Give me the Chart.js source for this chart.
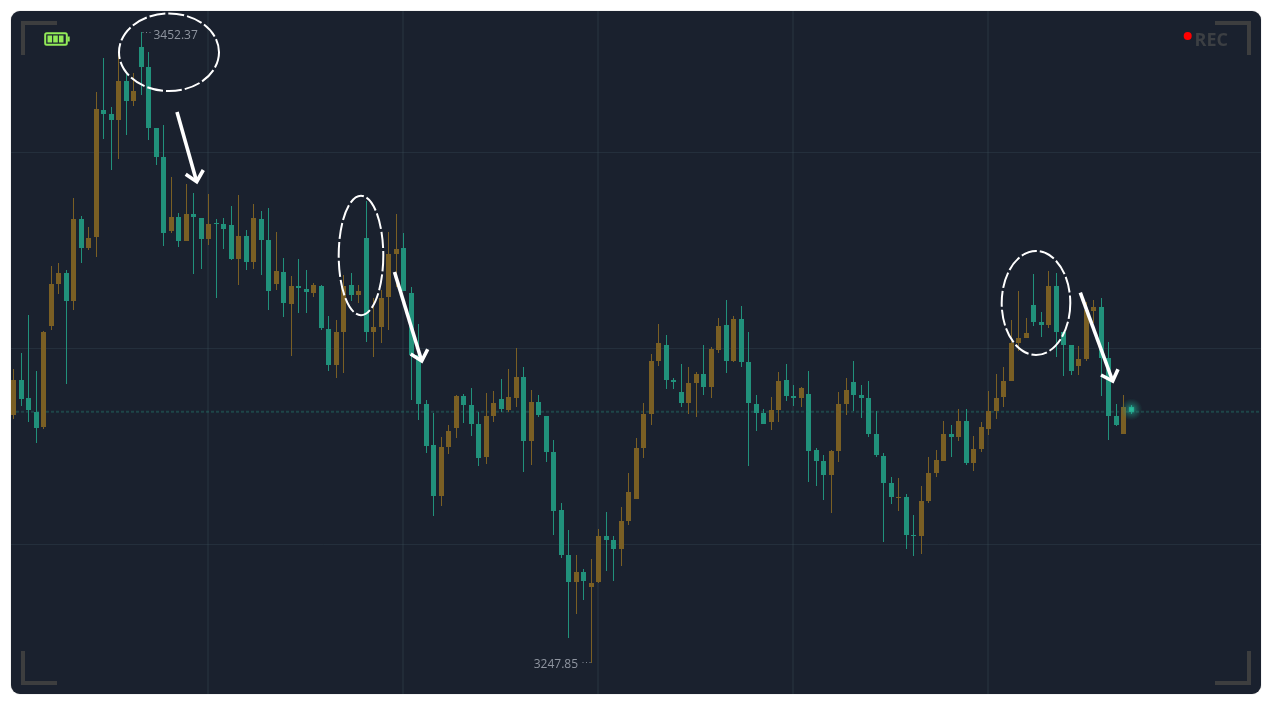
<!DOCTYPE html>
<html>
<head>
<meta charset="utf-8">
<title>Candlestick chart</title>
<script src="https://cdn.jsdelivr.net/npm/chart.js@4"></script>
<style>
html,body{margin:0;padding:0;background:#fff;width:1272px;height:705px;overflow:hidden}
#card{position:absolute;left:11px;top:11px;width:1250px;height:683px;border-radius:9px;overflow:hidden;background:#1a212e;box-shadow:0 0 1px rgba(0,0,0,.45)}
canvas{position:absolute;left:0;top:0}
svg{position:absolute;left:0;top:0;pointer-events:none}
</style>
</head>
<body>
<div id="card"><canvas id="c" width="1250" height="683"></canvas></div>
<svg width="1272" height="705" viewBox="0 0 1272 705" fill="none">
  <g stroke="#3d3e3f" stroke-width="4">
    <path d="M57 23H23V55"/><path d="M1215 23H1249V55"/>
    <path d="M23 651V683H57"/><path d="M1249 651V683H1215"/>
  </g>
  <g>
    <rect x="45.2" y="33.2" width="21.6" height="11.6" rx="1.5" stroke="#92ea58" stroke-width="2"/>
    <rect x="67.5" y="36.5" width="2.2" height="5" fill="#92ea58"/>
    <rect x="47.5" y="35.5" width="4.6" height="7" fill="#92ea58"/>
    <rect x="53.2" y="35.5" width="4.6" height="7" fill="#92ea58"/>
    <rect x="58.9" y="35.5" width="4.6" height="7" fill="#92ea58"/>
  </g>
  <circle cx="1187.7" cy="36" r="4" fill="#ff0000"/>
  <text x="1194.5" y="45.6" font-family="Open Sans" font-weight="700" font-size="18" fill="#3c3f43">REC</text>
  <g stroke="#ffffff" stroke-width="2" stroke-dasharray="16 3">
    <ellipse cx="169" cy="52.3" rx="50" ry="38.8"/>
    <ellipse cx="361" cy="255.5" rx="22.3" ry="59.7"/>
    <ellipse cx="1036" cy="303" rx="34.3" ry="52"/>
  </g>
  <g stroke="#ffffff" stroke-width="3.6">
    <path d="M177 112L196.7 181.7"/><path d="M185.7 174.3L196.7 181.7L203.3 170"/>
    <path d="M394.5 272L421.7 361"/><path d="M410.7 354L421.7 361L427.7 349.3"/>
    <path d="M1080.3 292.7L1112.7 381"/><path d="M1101 375L1112.7 381L1118 369.3"/>
  </g>
</svg>
<script>
const highs = [3343.2,3348.4,3360.7,3342.5,3355.5,3376.6,3377.6,3375.3,3398.6,3392.8,
3389.2,3433.0,3444.0,3428.1,3445.7,3439.2,3439.2,3452.37,3446.0,3421.3,
3422.3,3405.4,3393.8,3403.2,3400.3,3392.2,3399.9,3391.8,3392.2,3396.0,
3399.6,3388.3,3396.7,3394.4,3395.4,3387.6,3379.2,3373.3,3378.9,3375.3,
3371.1,3370.4,3360.4,3359.1,3373.7,3374.3,3370.4,3397.7,3366.2,3368.8,
3387.6,3393.4,3387.3,3369.8,3357.8,3333.1,3328.9,3321.1,3325.0,3334.8,
3335.1,3337.0,3329.2,3335.4,3336.0,3339.9,3343.2,3350.0,3343.8,3336.4,
3334.8,3328.0,3320.2,3299.7,3291.0,3282.9,3278.3,3281.6,3291.3,3296.8,
3289.0,3298.4,3309.5,3320.8,3332.2,3348.0,3357.8,3354.2,3340.3,3344.8,
3343.8,3342.2,3351.0,3350.3,3359.7,3365.6,3360.4,3363.6,3355.2,3334.8,
3330.2,3334.1,3342.2,3344.8,3338.0,3337.3,3342.5,3317.6,3315.3,3316.9,
3335.7,3340.3,3345.8,3338.0,3339.3,3329.6,3315.9,3308.2,3307.8,3302.6,
3295.8,3305.2,3314.6,3316.9,3326.3,3325.0,3330.2,3330.2,3321.4,3326.0,
3336.0,3341.6,3343.8,3359.1,3368.5,3359.7,3374.0,3361.7,3375.0,3374.3,
3355.2,3351.0,3350.6,3364.9,3365.6,3366.2,3351.9,3331.8,3334.8,3331.5];
const lows = [3327.0,3331.2,3326.0,3319.2,3323.7,3355.8,3367.5,3338.3,3362.3,3377.6,
3381.8,3379.5,3417.8,3407.7,3411.3,3419.1,3428.5,3432.0,3417.5,3409.3,
3383.1,3387.3,3382.7,3384.7,3374.0,3375.6,3383.4,3366.2,3382.1,3378.5,
3370.4,3375.3,3375.6,3373.7,3362.3,3368.8,3360.0,3347.4,3361.3,3361.3,
3366.5,3355.8,3342.5,3340.3,3341.9,3365.2,3364.6,3351.9,3347.1,3351.6,
3355.8,3369.8,3368.5,3333.1,3326.6,3315.9,3295.5,3298.7,3315.6,3320.8,
3325.7,3321.4,3311.7,3312.4,3326.0,3329.2,3329.2,3330.9,3309.8,3312.0,
3327.6,3313.0,3289.3,3281.9,3256.0,3263.7,3268.3,3247.85,3273.8,3277.7,
3274.4,3279.3,3292.6,3301.0,3314.3,3325.0,3344.2,3336.7,3336.7,3330.9,
3328.6,3327.6,3334.8,3333.8,3348.4,3341.9,3345.4,3343.8,3311.7,3323.1,
3325.3,3323.4,3326.0,3332.8,3331.2,3330.9,3306.5,3305.2,3300.7,3296.5,
3313.0,3328.3,3329.6,3327.3,3321.1,3314.6,3287.1,3299.4,3297.1,3284.8,
3282.5,3283.2,3299.7,3308.2,3313.3,3314.6,3319.8,3312.0,3310.1,3316.3,
3321.8,3327.0,3330.9,3339.3,3349.0,3353.2,3357.1,3353.6,3356.5,3347.1,
3340.9,3341.2,3341.2,3345.8,3358.1,3334.4,3320.2,3324.7,3322.1,3328.6];
const opens = [3328.3,3339.6,3333.8,3329.2,3324.4,3357.1,3370.8,3374.3,3365.2,3391.8,
3382.4,3386.0,3427.2,3425.9,3423.9,3436.6,3430.1,3447.6,3441.1,3421.3,
3411.9,3387.9,3392.5,3384.7,3393.4,3392.2,3385.3,3390.5,3390.2,3389.9,
3378.9,3386.3,3377.9,3391.8,3385.0,3370.8,3374.6,3364.3,3370.1,3369.1,
3367.8,3370.1,3356.2,3344.5,3355.2,3370.4,3367.2,3385.7,3355.2,3356.8,
3366.5,3380.5,3382.4,3367.8,3347.7,3331.8,3318.5,3302.0,3317.9,3324.0,
3334.4,3331.5,3325.3,3314.6,3328.0,3333.5,3329.9,3333.8,3340.6,3319.8,
3332.5,3328.0,3316.3,3297.5,3282.9,3274.1,3277.4,3272.5,3274.1,3289.0,
3287.7,3284.8,3293.9,3301.0,3317.6,3328.6,3345.8,3351.0,3339.6,3335.7,
3332.2,3338.6,3341.6,3337.3,3349.3,3357.4,3345.8,3359.4,3345.4,3331.8,
3328.9,3326.0,3329.9,3339.6,3334.4,3333.8,3335.1,3316.9,3313.3,3308.8,
3316.6,3331.8,3339.0,3334.8,3333.8,3322.1,3315.0,3306.2,3301.3,3301.7,
3289.3,3289.0,3300.4,3309.5,3313.3,3322.1,3321.1,3326.3,3312.7,3317.2,
3323.7,3329.6,3334.1,3339.3,3351.6,3353.2,3363.9,3358.4,3357.4,3370.1,
3355.2,3351.0,3344.2,3346.4,3362.0,3363.3,3346.7,3328.0,3322.1,3330.9];
const closes = [3339.6,3333.5,3329.9,3324.0,3355.2,3370.8,3374.3,3365.2,3391.8,3382.4,
3385.7,3427.5,3425.9,3423.9,3436.6,3430.1,3433.3,3441.1,3421.3,3411.9,
3387.3,3392.5,3384.7,3393.4,3392.5,3385.3,3390.2,3390.2,3388.6,3378.9,
3386.3,3377.9,3392.2,3385.0,3368.5,3375.0,3364.6,3370.1,3369.5,3368.2,
3370.4,3356.5,3344.5,3355.2,3370.1,3367.2,3368.5,3355.2,3356.8,3366.2,
3380.5,3382.1,3368.5,3347.7,3331.8,3318.2,3302.0,3317.9,3323.1,3334.4,
3331.5,3325.3,3314.3,3328.0,3332.2,3330.2,3334.1,3340.6,3319.8,3332.5,
3328.3,3316.3,3297.1,3282.9,3274.1,3277.4,3274.4,3273.8,3289.0,3287.7,
3284.8,3293.9,3303.3,3317.6,3328.6,3345.8,3351.6,3339.6,3339.0,3332.2,
3338.6,3341.6,3337.3,3349.7,3357.1,3345.8,3359.4,3345.4,3332.2,3328.9,
3325.3,3329.9,3339.3,3334.4,3333.8,3337.0,3316.6,3313.3,3308.8,3316.6,
3331.8,3336.4,3334.8,3333.8,3322.1,3315.3,3306.2,3301.7,3301.7,3289.3,
3289.0,3300.4,3309.5,3313.7,3322.1,3321.1,3326.3,3312.7,3317.2,3324.4,
3329.6,3333.8,3339.3,3351.6,3353.2,3354.8,3358.4,3357.4,3370.1,3355.2,
3351.0,3342.5,3346.4,3362.3,3363.3,3346.7,3328.0,3325.0,3330.9,3329.3];
const gridPrices = [3413.3, 3349.99, 3286.2];
const gridIndexes = [25.9, 51.9, 77.9, 103.9, 129.9];
const priceMin = 3237.79, priceMax = 3459.28;
const highLabel = "3452.37", lowLabel = "3247.85";

const GREEN = "#21917b", BROWN = "#7a5f24";
const GRID_X = "rgba(58,80,92,.22)", GRID_Y = "rgba(58,78,92,.3)";
const colors = opens.map((o, i) => closes[i] > o ? BROWN : GREEN);
const idx = opens.map((_, i) => i);
const lastPrice = closes[closes.length - 1];

const snap = {
  id: "snap",
  afterDatasetsUpdate(chart) {
    chart.data.datasets.forEach((ds, d) => {
      if (ds.type === "line") return;
      chart.getDatasetMeta(d).data.forEach(el => {
        el.x = Math.floor(el.x) + 0.5;
        let a = Math.round(el.y), b = Math.round(el.base);
        if (a === b) b = a + 1;
        el.y = a; el.base = b; el.height = b - a;
      });
    });
  }
};
const extras = {
  id: "extras",
  afterDatasetsDraw(chart) {
    const { ctx, scales: { x, y } } = chart;
    const last = idx.length - 1;
    const cx = Math.floor(x.getPixelForValue(last)) + 0.5;
    const cy = y.getPixelForValue((opens[last] + closes[last]) / 2);
    ctx.save();
    const g = ctx.createRadialGradient(cx, cy, 1, cx, cy, 11);
    g.addColorStop(0, "rgba(45,215,175,.6)");
    g.addColorStop(.4, "rgba(35,170,145,.34)");
    g.addColorStop(1, "rgba(33,145,123,0)");
    ctx.fillStyle = g;
    ctx.beginPath(); ctx.arc(cx, cy, 11, 0, Math.PI * 2); ctx.fill();

    const iHi = highs.indexOf(Math.max(...highs)), iLo = lows.indexOf(Math.min(...lows));
    const hx = Math.floor(x.getPixelForValue(iHi)) + 0.5, hy = y.getPixelForValue(highs[iHi]);
    const lx = Math.floor(x.getPixelForValue(iLo)) + 0.5, ly = y.getPixelForValue(lows[iLo]);
    ctx.strokeStyle = "#7f8690"; ctx.lineWidth = 1; ctx.setLineDash([1, 2.5]);
    ctx.beginPath();
    ctx.moveTo(hx + 1, Math.round(hy) + .5); ctx.lineTo(hx + 11, Math.round(hy) + .5);
    ctx.moveTo(lx - 1, Math.round(ly) - .5); ctx.lineTo(lx - 11, Math.round(ly) - .5);
    ctx.stroke(); ctx.setLineDash([]);
    ctx.fillStyle = "#8f95a0";
    ctx.font = '12px "Open Sans"';
    ctx.textBaseline = "middle";
    ctx.textAlign = "left"; ctx.fillText(highLabel, hx + 12, hy + 3);
    ctx.textAlign = "right"; ctx.fillText(lowLabel, lx - 13.5, ly + 2);
    ctx.restore();
  }
};

const xMin = -2.75 / 7.5;
new Chart(document.getElementById("c"), {
  type: "bar",
  data: {
    datasets: [
      { type: "line", order: 3, data: [{ x: xMin, y: lastPrice }, { x: xMin + 1250 / 7.5, y: lastPrice }],
        borderColor: "rgba(38,130,115,.38)", borderWidth: 2, borderDash: [3, 2], pointRadius: 0, tension: 0 },
      { order: 2, grouped: false, barThickness: 1, inflateAmount: 0, borderWidth: 0,
        data: idx.map(i => ({ x: i, y: [lows[i], highs[i]] })), backgroundColor: colors },
      { order: 1, grouped: false, barThickness: 5, inflateAmount: 0, borderWidth: 0,
        data: idx.map(i => ({ x: i, y: [opens[i], closes[i]] })), backgroundColor: colors }
    ]
  },
  options: {
    responsive: false, animation: false, devicePixelRatio: 1,
    layout: { padding: 0 },
    plugins: { legend: { display: false }, tooltip: { enabled: false } },
    scales: {
      x: { type: "linear", offset: false, min: xMin, max: xMin + 1250 / 7.5,
        afterBuildTicks: s => { s.ticks = gridIndexes.map(v => ({ value: v })); },
        grid: { offset: false, color: GRID_X, lineWidth: 2, drawTicks: false },
        border: { display: false }, ticks: { display: false } },
      y: { type: "linear", min: priceMin, max: priceMax,
        afterBuildTicks: s => { s.ticks = gridPrices.map(v => ({ value: v })); },
        grid: { color: GRID_Y, lineWidth: 1, drawTicks: false },
        border: { display: false }, ticks: { display: false } }
    }
  },
  plugins: [snap, extras]
});
</script>
</body>
</html>
